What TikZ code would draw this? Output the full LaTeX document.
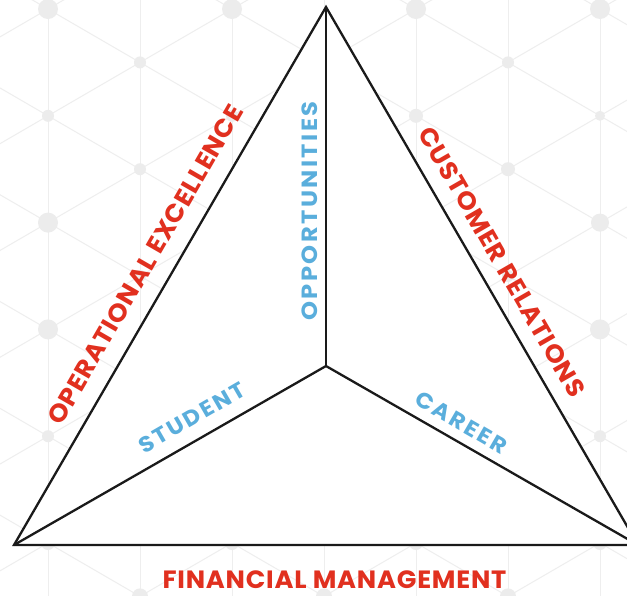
\documentclass[tikz,border=0pt]{standalone}
\usepackage{fontspec}
\newfontfamily\redfont{Poppins}[LetterSpace=3]
\newfontfamily\bluefont{Poppins}[LetterSpace=10]
\definecolor{labred}{RGB}{225,48,31}
\definecolor{labblue}{RGB}{90,174,220}
\definecolor{bggrey}{RGB}{238,238,238}
\definecolor{dotgrey}{RGB}{236,236,236}
\definecolor{lineblack}{RGB}{26,26,26}
\begin{document}
\begin{tikzpicture}[x=1pt,y=-1pt,
  bgline/.style={draw=bggrey, line width=1pt},
  bgdot/.style={fill=dotgrey},
  edge/.style={draw=lineblack, line width=2.3pt, line join=miter},
  redlab/.style={text=labred, font=\redfont\bfseries\fontsize{25}{25}\selectfont, inner sep=0pt},
  bluelab/.style={text=labblue, font=\bluefont\bfseries\fontsize{22}{22}\selectfont, inner sep=0pt}]
\useasboundingbox (0,0) rectangle (627,595);
\clip (0,0) rectangle (627,595);
\fill[white] (0,0) rectangle (627,595);
% background lattice
\foreach \m in {-1,...,7} \draw[bgline] ({48+92*\m},-10) -- ({48+92*\m},610);
\foreach \j in {-7,...,10} {
  \draw[bgline] ({48+184*\j-50},-20) -- ({48+184*\j+1052.7},620);
  \draw[bgline] ({48+184*\j+50},-20) -- ({48+184*\j-1052.7},620);
}
\foreach \x/\y/\r in {48/9/10, 232/9/10, 416/9/10, 600/9/10,
  140/62.4/6, 508/62.4/6,
  48/115.8/6, 232/115.8/6, 416/115.8/7, 600/115.8/5,
  140/169.2/6, 508/169.2/7,
  48/222.6/10, 600/222.6/9,
  140/276/6, 508/276/6,
  48/329.4/10, 600/329.4/10,
  48/436.2/6, 600/436.2/6,
  48/543/7, 232/543/7, 416/543/7, 600/543/7,
  140/596.4/8, 324/596.4/8, 508/596.4/8}
  \fill[bgdot] (\x,\y) circle[radius=\r];
% triangle
\coordinate (A) at (326,7);
\coordinate (B) at (14,545);
\coordinate (C) at (638,545);
\coordinate (O) at (326,366);
\fill[white] (A) -- (B) -- (C) -- cycle;
\draw[edge] (A) -- (B) -- (C) -- cycle;
\draw[edge] (A) -- (O);
\draw[edge] (O) -- (B);
\draw[edge] (O) -- (C);
% labels
\node[redlab, rotate=60, xscale=1.05] (opex) at (145.5,264.5) {OPERATIONAL EXCELLENCE};
\node[redlab, rotate=-60, xscale=1.05] (cust) at (502,262) {CUSTOMER RELATIONS};
\node[redlab, xscale=1.03] (fin) at (334.5,580) {FINANCIAL MANAGEMENT};
\node[bluelab, rotate=90, xscale=1.1] (opp) at (310,211) {OPPORTUNITIES};
\node[bluelab, rotate=30, xscale=1.06] (stu) at (192,417.5) {STUDENT};
\node[bluelab, rotate=-30, xscale=1.06] (car) at (461.5,422.5) {CAREER};
\end{tikzpicture}
\end{document}
